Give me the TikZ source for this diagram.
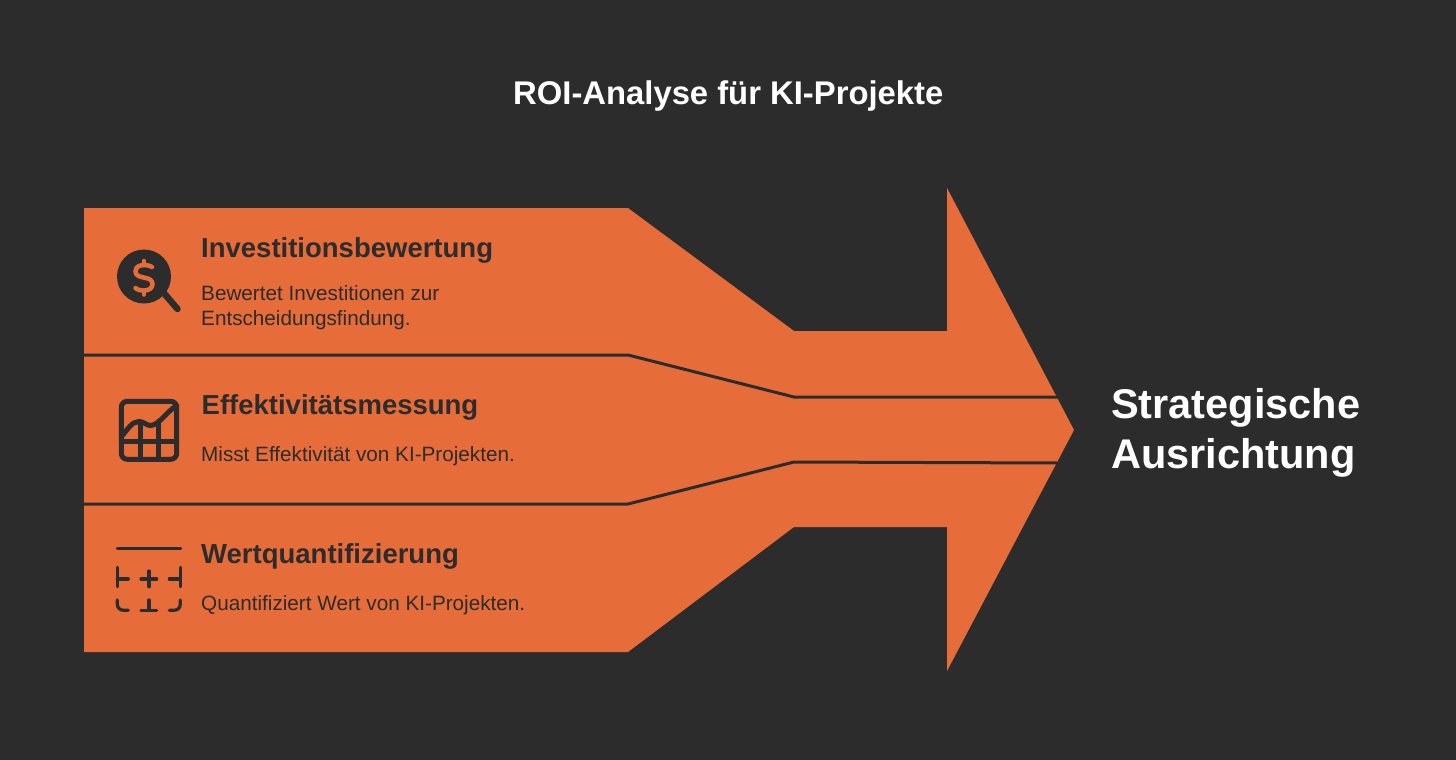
\documentclass[tikz,border=0pt]{standalone}
\usepackage{fontspec}
\setmainfont{Liberation Sans}
\definecolor{bgdark}{HTML}{2C2C2C}
\definecolor{arroworange}{HTML}{E66C3A}
\tikzset{
	heading/.style={anchor=base west,text=bgdark,font=\bfseries\fontsize{27.5}{27.5}\selectfont,inner sep=0pt},
	bodytext/.style={anchor=base west,text=bgdark,font=\fontsize{20.7}{20.7}\selectfont,inner sep=0pt},
	whitetext/.style={anchor=base west,text=white,font=\bfseries\fontsize{#1}{#1}\selectfont,inner sep=0pt},
	divider/.style={draw=bgdark,line width=3pt},
	iconline/.style={draw=bgdark,line cap=round,line width=#1},
	dollarline/.style={draw=arroworange,line cap=round,line width=4.5pt}
}

\begin{document}
\begin{tikzpicture}[x=1pt,y=-1pt]
	\fill [bgdark] (0,0) rectangle (1456,760);
	\useasboundingbox (0,0) rectangle (1456,760);
	% arrow
	\fill [arroworange] (84,208) -- (628,208) -- (794,331) -- (947,331) -- (947,188) -- (1074,430)
		-- (947,671) -- (947,527) -- (794,527) -- (628,652) -- (84,652) -- cycle;
	\draw [divider] (84,355) -- (628,355) -- (794,397) -- (1058,397);
	\draw [divider] (84,504) -- (628,504) -- (794,462) -- (1058,463);
	% texts
	\node [whitetext=32.8] (title) at (513,104) {ROI-Analyse für KI-Projekte};
	\node [heading] (invest) at (201,257) {Investitionsbewertung};
	\node [bodytext] (investa) at (201,300) {Bewertet Investitionen zur};
	\node [bodytext] (investb) at (201,325) {Entscheidungsfindung.};
	\node [heading] (effekt) at (201.5,414) {Effektivitätsmessung};
	\node [bodytext] (effekta) at (201,461) {Misst Effektivität von KI-Projekten.};
	\node [heading] (wert) at (201,563) {Wertquantifizierung};
	\node [bodytext] (werta) at (201,610) {Quantifiziert Wert von KI-Projekten.};
	\node [whitetext=41.5] (straa) at (1111,418) {Strategische};
	\node [whitetext=41.5] (strab) at (1111,468) {Ausrichtung};
	% magnifier
	\fill [bgdark] (144,276.5) circle (27);
	\draw [iconline=6.5pt] (163,292) -- (177.5,309);
	\draw [dollarline] (152,267) .. controls (148.5,264.5) and (135.5,263) .. (135.5,271.5)
		.. controls (135.5,280) and (152.5,275) .. (152.5,284) .. controls (152.5,292.5) and (138.5,291.5) .. (135.5,288);
	\draw [dollarline] (143.8,261) -- (143.8,265) (143.8,290.5) -- (143.8,294.5);
	% chart
	\draw [iconline=5pt,rounded corners=6pt] (121.3,401.3) rectangle (176.7,459.3);
	\draw [iconline=5pt] (121.3,441) -- (176.7,441);
	\foreach \x in {140.7,158.7}
	\draw [iconline=5pt] (\x,423) -- (\x,459);
	\draw [iconline=5pt] (121.3,436.7) .. controls (128,429) and (132,421.5) .. (139,421.5)
		.. controls (144,421.5) and (147,426) .. (151,425.5) .. controls (160,424) and (166,412) .. (176.7,405.7);
	% calculator
	\draw [iconline=3.2pt] (117.3,548.3) -- (180.7,548.3);
	\draw [iconline=3.2pt] (117.3,567.3) -- (117.3,586.7) (117.3,579) -- (128.3,579);
	\draw [iconline=3.2pt] (141,579) -- (156.7,579) (149,571) -- (149,586.7);
	\draw [iconline=3.2pt] (180.3,567.3) -- (180.3,586.7) (169.3,579) -- (180.3,579);
	\draw [iconline=3.2pt] (117.3,600) -- (117.3,604) .. controls (117.3,608) and (120,610.3) .. (124,610.3) -- (128.3,610.3);
	\draw [iconline=3.2pt] (141,610.3) -- (156.7,610.3) (149,600) -- (149,610.3);
	\draw [iconline=3.2pt] (180.3,600) -- (180.3,604) .. controls (180.3,608) and (177.6,610.3) .. (173.6,610.3) -- (169.3,610.3);
\end{tikzpicture}
\end{document}
